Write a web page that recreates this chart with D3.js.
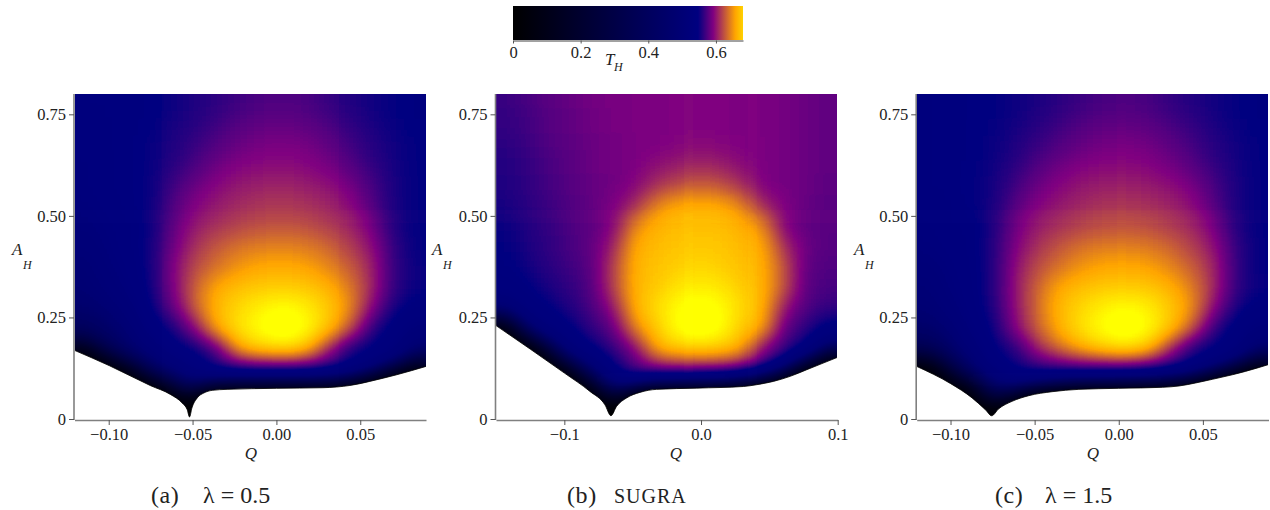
<!DOCTYPE html>
<html>
<head>
<meta charset="utf-8">
<script src="https://cdn.jsdelivr.net/npm/d3@7"></script>
<style>
  html, body { margin: 0; background: #fff; }
  text { font-family: "Liberation Serif", serif; fill: #222; }
</style>
</head>
<body>
<div id="chart"></div>
<script>
// Colour map of T_H
const colorStops = [0, 0.547, 0.592, 0.657, 0.703]
const colorValues = ["#000000", "#000080", "#800080", "#ffa500", "#ffff00"]
const barTicks = [0, 0.2, 0.4, 0.6]
const barMax = 0.68

// T_H per cell, top row first (A_H = 0.8 downwards), left to right in Q
const gridA = [
  [.540,.543,.545,.546,.550,.556,.562,.568,.573,.574,.572,.566,.560,.554,.549,.545],
  [.535,.540,.545,.548,.553,.560,.568,.575,.580,.581,.579,.573,.565,.557,.550,.546],
  [.535,.540,.545,.550,.556,.566,.575,.583,.588,.589,.587,.580,.571,.561,.553,.547],
  [.530,.540,.545,.550,.560,.573,.585,.592,.595,.596,.594,.588,.578,.565,.555,.548],
  [.530,.540,.545,.550,.568,.583,.594,.601,.604,.605,.603,.598,.589,.573,.556,.548],
  [.525,.535,.545,.551,.575,.592,.602,.609,.613,.614,.612,.607,.598,.578,.557,.547],
  [.520,.530,.540,.552,.580,.602,.611,.618,.623,.625,.623,.616,.608,.591,.560,.547],
  [.510,.525,.540,.553,.585,.611,.626,.636,.641,.642,.640,.632,.617,.600,.565,.548],
  [.500,.520,.535,.555,.592,.622,.636,.652,.659,.660,.657,.645,.630,.608,.565,.550],
  [.490,.510,.530,.553,.590,.630,.660,.670,.676,.678,.675,.664,.642,.610,.565,.550],
  [.460,.490,.515,.550,.580,.630,.668,.684,.698,.705,.697,.677,.652,.597,.555,.540],
  [.400,.450,.500,.535,.553,.595,.663,.690,.708,.720,.706,.675,.630,.565,.540,.520],
  [.250,.380,.460,.510,.540,.548,.575,.660,.678,.685,.672,.610,.555,.545,.530,.470],
  [0,0,.280,.420,.500,.530,.550,.555,.560,.560,.560,.553,.548,.530,.480,.350],
  [0,0,0,0,.300,.450,.500,.500,.500,.500,.500,.500,.500,.450,0,0],
  [0,0,0,0,0,.200,0,0,0,0,0,0,0,0,0,0]
]
const gridB = [
  [.567,.572,.578,.583,.587,.589,.591,.591,.592,.592,.592,.591,.590,.588,.585,.582],
  [.565,.570,.577,.582,.586,.589,.590,.591,.592,.592,.592,.591,.590,.588,.585,.582],
  [.563,.568,.575,.580,.585,.588,.590,.591,.594,.597,.594,.592,.590,.588,.585,.582],
  [.560,.566,.573,.578,.584,.587,.590,.598,.604,.609,.606,.596,.590,.588,.585,.581],
  [.558,.564,.571,.577,.583,.586,.593,.612,.622,.630,.625,.612,.591,.587,.584,.580],
  [.555,.562,.569,.576,.582,.590,.610,.645,.662,.665,.662,.645,.610,.590,.583,.579],
  [.551,.559,.566,.574,.580,.592,.648,.664,.670,.672,.670,.665,.650,.590,.582,.578],
  [.548,.556,.564,.572,.580,.605,.662,.668,.674,.677,.674,.668,.662,.610,.585,.577],
  [.545,.553,.562,.570,.578,.618,.666,.672,.680,.684,.680,.672,.665,.625,.580,.575],
  [.535,.548,.556,.566,.576,.618,.666,.675,.692,.697,.692,.678,.666,.625,.578,.572],
  [.500,.535,.548,.560,.572,.600,.664,.685,.705,.712,.705,.685,.665,.600,.575,.565],
  [.150,.470,.530,.548,.565,.580,.645,.677,.708,.720,.708,.677,.660,.578,.565,.540],
  [0,0,.350,.520,.548,.565,.590,.660,.675,.680,.675,.660,.590,.565,.545,.470],
  [0,0,0,.300,.470,.548,.572,.585,.590,.592,.590,.582,.570,.548,.300,0],
  [0,0,0,0,.200,.450,.540,.560,.560,.560,.560,.560,.450,0,0,0],
  [0,0,0,0,0,.100,0,0,0,0,0,0,0,0,0,0]
]
const gridC = [
  [.540,.543,.546,.548,.552,.557,.562,.568,.573,.574,.572,.566,.560,.554,.549,.545],
  [.540,.543,.546,.549,.554,.561,.569,.575,.580,.581,.579,.573,.565,.557,.550,.546],
  [.540,.543,.546,.551,.558,.567,.576,.583,.588,.589,.587,.580,.571,.561,.553,.547],
  [.540,.543,.547,.552,.563,.575,.586,.592,.595,.596,.594,.588,.578,.565,.555,.548],
  [.540,.543,.547,.553,.570,.584,.594,.601,.604,.605,.603,.598,.589,.573,.556,.548],
  [.535,.540,.547,.555,.578,.594,.602,.609,.613,.614,.612,.607,.598,.578,.557,.547],
  [.530,.540,.542,.558,.587,.604,.612,.618,.623,.625,.623,.616,.608,.591,.560,.547],
  [.525,.535,.542,.560,.592,.612,.626,.636,.641,.642,.640,.632,.617,.600,.565,.548],
  [.515,.530,.542,.560,.600,.623,.638,.652,.659,.660,.657,.645,.630,.608,.565,.548],
  [.505,.525,.540,.560,.602,.632,.660,.670,.676,.678,.675,.664,.642,.610,.565,.550],
  [.490,.515,.538,.558,.600,.635,.668,.684,.698,.705,.697,.677,.652,.597,.555,.540],
  [.450,.490,.530,.552,.595,.630,.664,.690,.708,.720,.706,.675,.630,.565,.540,.520],
  [.360,.450,.510,.548,.560,.605,.635,.660,.678,.685,.672,.610,.555,.545,.530,.470],
  [0,.300,.450,.530,.550,.558,.562,.565,.566,.565,.558,.550,.546,.530,.480,.300],
  [0,0,.150,.400,.500,.500,.500,.500,.500,.500,.500,.500,.500,.450,0,0],
  [0,0,0,.200,0,0,0,0,0,0,0,0,0,0,0,0]
]

// Extremality bound, [Q, A_H]
const boundaryA = [[-.1204,.169],[-.0995,.131],[-.075,.082],[-.063,.06],[-.0561,.039],[-.0532,.023],[-.0518,.005],[-.0504,.027],[-.0472,.052],[-.0433,.064],[-.0383,.0705],[-.0294,.073],[0,.0755],[.0277,.077],[.0359,.0788],[.0438,.0825],[.0498,.087],[.0557,.0926],[.0718,.109],[.0892,.1295]]
const boundaryB = [[-.15,.23],[-.0999,.113],[-.0813,.068],[-.0703,.035],[-.0659,.008],[-.0618,.031],[-.0544,.052],[-.0447,.0655],[-.0325,.073],[-.0032,.076],[.031,.08],[.0408,.0845],[.053,.0926],[.0652,.105],[.0774,.1214],[.1,.152]]
const boundaryC = [[-.1201,.1295],[-.0999,.087],[-.0872,.052],[-.0793,.023],[-.0755,.008],[-.0715,.0246],[-.0634,.0435],[-.0535,.0574],[-.0396,.0672],[-.0237,.073],[0,.0755],[.0259,.078],[.0358,.0813],[.0457,.0887],[.0557,.0977],[.0676,.109],[.0753,.1172],[.089,.134]]

const yTicks = [0, 0.25, 0.5, 0.75]
const ticksAC = [-0.1, -0.05, 0, 0.05]
const ticksB = [-0.1, 0, 0.1]

const panels = [
  { grid: gridA, boundary: boundaryA, qDomain: [-0.1204, 0.0892], xRange: [74.5, 426], ticks: ticksAC, fmt: ".2f",
    qLabel: 251, aLabel: 12, tag: "(a)", tagX: 151, name: "λ = 0.5", nameX: 203 },
  { grid: gridB, boundary: boundaryB, qDomain: [-0.15, 0.1], xRange: [496, 837.7], ticks: ticksB, fmt: ".1f",
    qLabel: 676, aLabel: 432, tag: "(b)", tagX: 567, name: "SUGRA", nameX: 614 },
  { grid: gridC, boundary: boundaryC, qDomain: [-0.1201, 0.089], xRange: [916.7, 1268.5], ticks: ticksAC, fmt: ".2f",
    qLabel: 1093, aLabel: 854, tag: "(c)", tagX: 995, name: "λ = 1.5", nameX: 1045 }
]

const width = 1270
const height = 510
const yRange = [419, 94]
const axisY = 420
const tempMax = 0.73

const svg = d3.select("#chart").append("svg")
  .attr("width", width)
  .attr("height", height)
  .style("display", "block")

const colorScale = d3.scaleLinear().domain(colorStops).range(colorValues).clamp(true)
// more gray levels for the hot end, the colours change fast there
const grayScale = d3.scaleLinear().domain([0, 0.5, tempMax]).range([0, 100, 255])

const defs = svg.append("defs")

// The cells are painted gray (gray = T_H), blurred, then coloured by this table
const table = d3.range(0, 256).map(i => d3.rgb(colorScale(grayScale.invert(i))))
const filter = defs.append("filter")
  .attr("id", "heat")
  .attr("filterUnits", "userSpaceOnUse")
  .attr("x", 0).attr("y", 0).attr("width", width).attr("height", height)
  .attr("color-interpolation-filters", "sRGB")
filter.append("feGaussianBlur").attr("stdDeviation", "11 10")
const transfer = filter.append("feComponentTransfer")
const channel = (tag, key) => transfer.append(tag)
  .attr("type", "table")
  .attr("tableValues", table.map(c => (c[key] / 255).toFixed(4)).join(" "))
channel("feFuncR", "r")
channel("feFuncG", "g")
channel("feFuncB", "b")

const gradient = defs.append("linearGradient").attr("id", "barGradient")
gradient.selectAll("stop")
  .data(colorStops.filter(d => d < barMax).concat([barMax]))
  .join("stop")
  .attr("offset", d => d / barMax)
  .attr("stop-color", d => colorScale(d))

const styleAxis = g => {
  g.select(".domain").attr("stroke", "#808080").attr("stroke-width", 1.6)
  g.selectAll(".tick line").attr("stroke", "#555").attr("stroke-width", 1)
  g.selectAll(".tick text")
    .style("font-family", '"Liberation Serif", serif')
    .style("font-size", "16.5px")
    .attr("fill", "#222")
}

const minusFormat = fmt => d => d3.format(fmt)(d).replace("-", "\u2212")

panels.forEach((p, idx) => {
  const x = d3.scaleLinear().domain(p.qDomain).range(p.xRange)
  const y = d3.scaleLinear().domain([0, 0.8]).range(yRange)
  const rows = p.grid.length
  const cols = p.grid[0].length
  const xBand = d3.scaleBand().domain(d3.range(cols)).range(p.xRange)
  const yBand = d3.scaleBand().domain(d3.range(rows)).range([94, axisY])

  const clipLeft = Math.ceil(p.xRange[0])
  const clipRight = Math.floor(p.xRange[1])
  defs.append("clipPath").attr("id", `clip${idx}`)
    .append("rect")
    .attr("x", clipLeft).attr("y", 94)
    .attr("width", clipRight - clipLeft).attr("height", axisY - 94)

  const plot = svg.append("g").attr("clip-path", `url(#clip${idx})`)
  const heat = plot.append("g").attr("filter", "url(#heat)")

  // edge cells run on past the frame so the blur does not fade at the sides
  const over = 40
  const cells = p.grid.flatMap((row, r) => row.map((v, c) => ({ r, c, v })))
  heat.selectAll("rect")
    .data(cells)
    .join("rect")
    .attr("x", d => xBand(d.c) - (d.c === 0 ? over : 0))
    .attr("y", d => yBand(d.r) - (d.r === 0 ? over : 0))
    .attr("width", d => xBand.bandwidth() + 0.5 + (d.c === 0 || d.c === cols - 1 ? over : 0))
    .attr("height", d => yBand.bandwidth() + 0.5 + (d.r === 0 || d.r === rows - 1 ? over : 0))
    .attr("fill", d => { const g = grayScale(d.v); return d3.rgb(g, g, g).formatRgb() })

  const area = d3.area()
    .x(d => x(d[0]))
    .y0(axisY + over)
    .y1(d => y(d[1]))
    .curve(d3.curveMonotoneX)
  const line = d3.line()
    .x(d => x(d[0]))
    .y(d => y(d[1]))
    .curve(d3.curveMonotoneX)

  // T_H falls to 0 on the bound
  heat.append("path")
    .attr("d", area(p.boundary))
    .attr("fill", "#000")
    .attr("stroke", "#000")
    .attr("stroke-width", 14)

  plot.append("path")
    .attr("d", area(p.boundary))
    .attr("fill", "#fff")
  plot.append("path")
    .attr("d", line(p.boundary))
    .attr("fill", "none")
    .attr("stroke", "#000")
    .attr("stroke-width", 0.8)

  const xAxis = d3.axisBottom(x)
    .tickValues(p.ticks)
    .tickFormat(minusFormat(p.fmt))
    .tickSize(5)
    .tickSizeOuter(0)
    .tickPadding(3)
  svg.append("g")
    .attr("transform", `translate(0,${axisY})`)
    .call(xAxis)
    .call(styleAxis)

  const yAxis = d3.axisLeft(y)
    .tickValues(yTicks)
    .tickFormat(d => d === 0 ? "0" : d3.format(".2f")(d))
    .tickSize(5)
    .tickSizeOuter(0)
    .tickPadding(3)
  const yG = svg.append("g")
    .attr("transform", `translate(${p.xRange[0] - 0.5},0)`)
    .call(yAxis)
    .call(styleAxis)
  yG.select(".domain").attr("d", `M0,${axisY}V94`)

  svg.append("text")
    .attr("x", p.qLabel).attr("y", 459)
    .attr("text-anchor", "middle")
    .style("font-size", "17px").style("font-style", "italic")
    .text("Q")
  svg.append("text")
    .attr("x", p.aLabel).attr("y", 255)
    .style("font-size", "17px").style("font-style", "italic")
    .text("A")
  svg.append("text")
    .attr("x", p.aLabel + 11).attr("y", 269)
    .style("font-size", "12px").style("font-style", "italic")
    .text("H")

  svg.append("text")
    .attr("x", p.tagX).attr("y", 503)
    .style("font-size", "24px")
    .style("letter-spacing", "0.6px")
    .text(p.tag)
  svg.append("text")
    .attr("x", p.nameX).attr("y", 503)
    .style("font-size", p.name === "SUGRA" ? "20px" : "24px")
    .style("letter-spacing", p.name === "SUGRA" ? "1px" : null)
    .text(p.name)
})

// Colour bar
const barScale = d3.scaleLinear().domain([0, barMax]).range([513, 743])
svg.append("rect")
  .attr("x", barScale(0)).attr("y", 6)
  .attr("width", barScale(barMax) - barScale(0)).attr("height", 34)
  .attr("fill", "url(#barGradient)")

const barAxis = d3.axisBottom(barScale)
  .tickValues(barTicks)
  .tickFormat(d => d === 0 ? "0" : d3.format(".1f")(d))
  .tickSize(3)
  .tickSizeOuter(0)
  .tickPadding(3)
svg.append("g")
  .attr("transform", "translate(0,40.5)")
  .call(barAxis)
  .call(styleAxis)
  .call(g => g.select(".domain").attr("stroke", "#444").attr("stroke-width", 1))

svg.append("text")
  .attr("x", 605).attr("y", 65)
  .style("font-size", "17px").style("font-style", "italic")
  .text("T")
svg.append("text")
  .attr("x", 614).attr("y", 71)
  .style("font-size", "12px").style("font-style", "italic")
  .text("H")
</script>
</body>
</html>
